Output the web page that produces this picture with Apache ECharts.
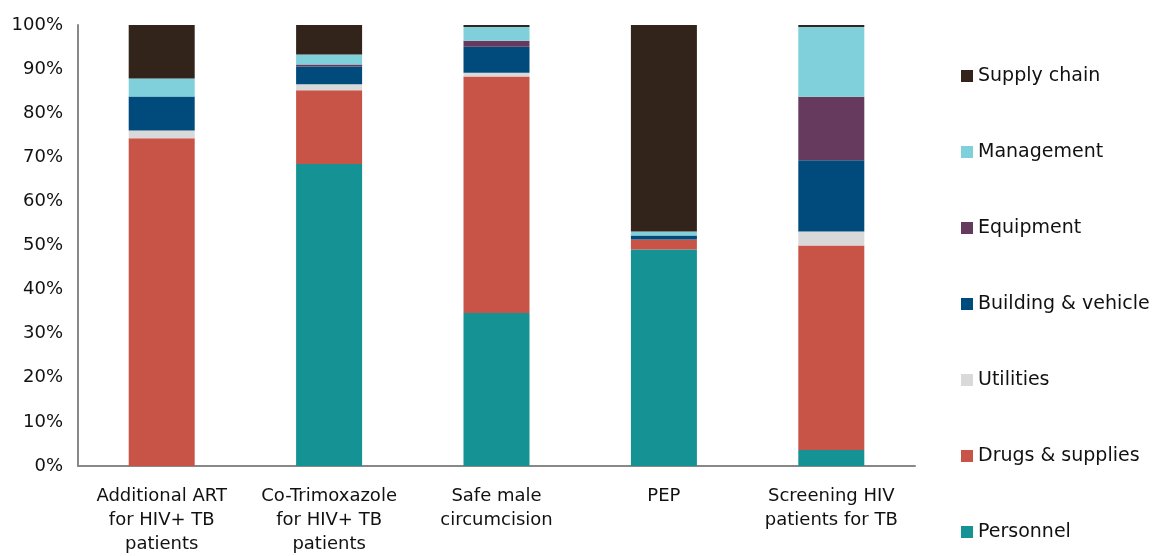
<!DOCTYPE html>
<html>
<head>
<meta charset="utf-8">
<title>Cost breakdown</title>
<script src="https://cdn.jsdelivr.net/npm/echarts@6/dist/echarts.min.js"></script>
<style>
  html, body { margin: 0; padding: 0; background: #fff; }
  #chart { width: 1161px; height: 556px; }
</style>
</head>
<body>
<div id="chart"></div>
<script>
// categories on the x axis
const categories = [
  'Additional ART\nfor HIV+ TB\npatients',
  'Co-Trimoxazole\nfor HIV+ TB\npatients',
  'Safe male\ncircumcision',
  'PEP',
  'Screening HIV\npatients for TB'
];

// shares in % (bottom to top)
const personnel  = [0,    68.5, 34.7, 49.1, 3.6];
const drugs      = [74.3, 16.7, 53.6, 2.25, 46.4];
const utilities  = [1.8,  1.35, 0.9,  0,    3.15];
const building   = [7.7,  4.05, 5.86, 0.9,  16.2];
const equipment  = [0,    0.45, 1.35, 0,    14.4];
const management = [4.05, 2.25, 3.15, 0.9,  15.8];
const supply     = [12.15, 6.7, 0.45, 46.85, 0.45];

const seriesNames = ['Personnel', 'Drugs & supplies', 'Utilities', 'Building & vehicle', 'Equipment', 'Management', 'Supply chain'];
const seriesData = [personnel, drugs, utilities, building, equipment, management, supply];
const colors = ['#159293', '#c85447', '#d9d9d9', '#004a7c', '#663a5e', '#7fd0da', '#33241b'];

const yTicks = [0, 10, 20, 30, 40, 50, 60, 70, 80, 90, 100];

const myChart = echarts.init(document.getElementById('chart'));
const fontFam = '"DejaVu Sans", sans-serif';

const option = {
  animation: false,
  textStyle: { fontFamily: fontFam },
  grid: { left: 78, right: 246, top: 25, bottom: 87, containLabel: false },
  legend: {
    orient: 'vertical',
    left: 956,
    top: 61,
    itemWidth: 12,
    itemHeight: 12,
    itemGap: 56,
    icon: 'rect',
    selectedMode: false,
    data: seriesNames.slice().reverse(),
    textStyle: { fontSize: 19, color: '#111', lineHeight: 20, fontFamily: fontFam }
  },
  xAxis: {
    type: 'category',
    data: categories,
    axisLine: { show: true, lineStyle: { color: '#888', width: 2 } },
    axisTick: { show: false },
    axisLabel: { color: '#111', fontSize: 18, lineHeight: 24, margin: 18, interval: 0, fontFamily: fontFam }
  },
  yAxis: {
    type: 'value',
    min: yTicks[0],
    max: yTicks[yTicks.length - 1],
    interval: 10,
    axisLine: { show: true, lineStyle: { color: '#888', width: 2 } },
    axisTick: { show: false },
    splitLine: { show: false },
    axisLabel: { color: '#111', fontSize: 18, margin: 15, formatter: '{value}%', fontFamily: fontFam }
  },
  series: seriesNames.map(function (name, i) {
    return {
      name: name,
      type: 'bar',
      stack: 'total',
      barWidth: 66,
      itemStyle: { color: colors[i] },
      data: seriesData[i]
    };
  })
};

myChart.setOption(option);
</script>
</body>
</html>
